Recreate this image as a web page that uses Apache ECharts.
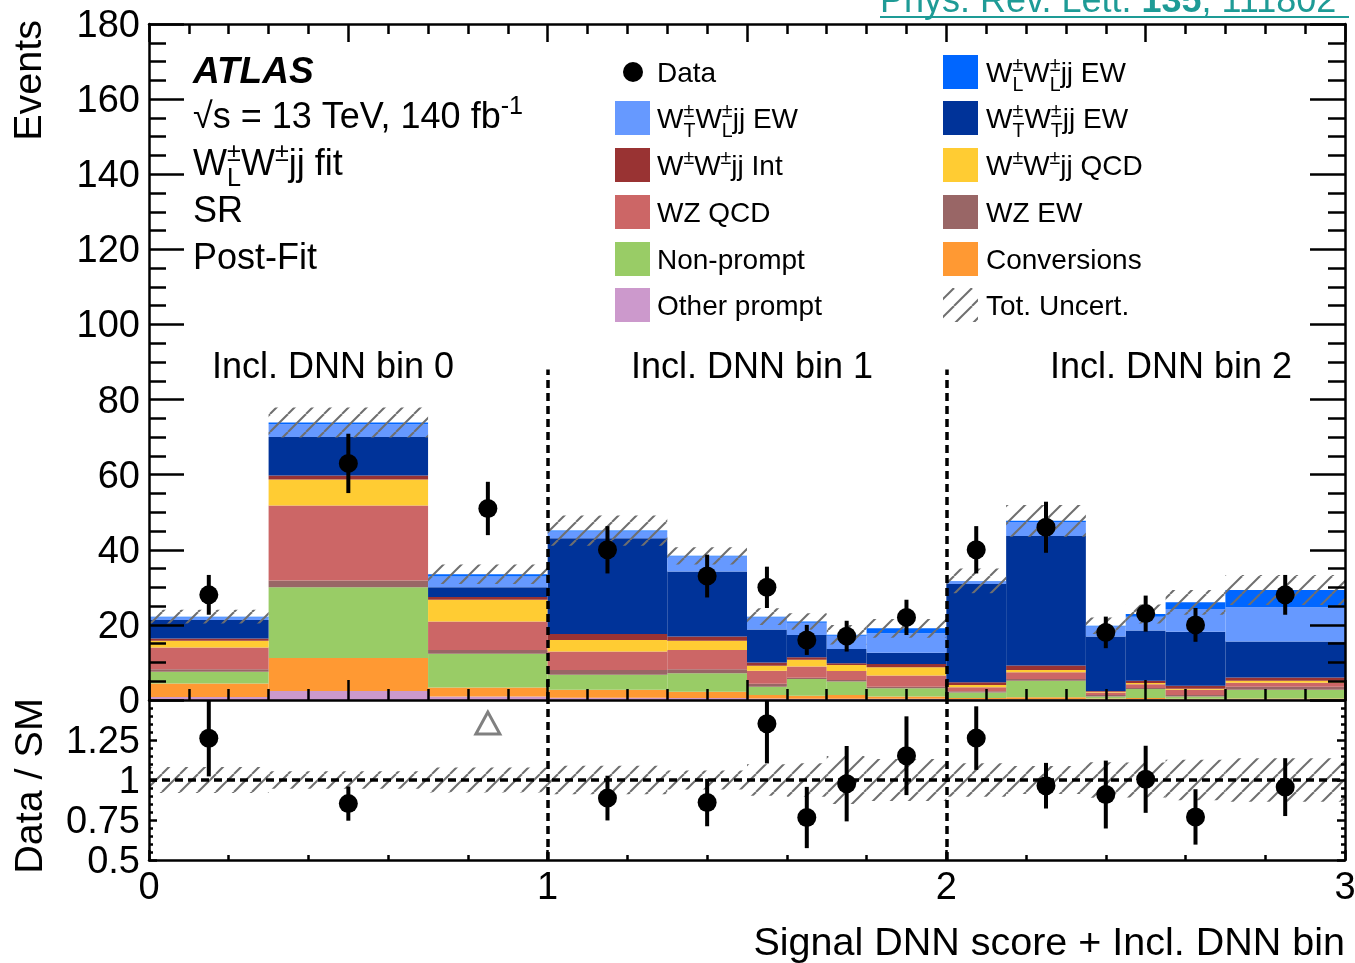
<!DOCTYPE html>
<html>
<head>
<meta charset="utf-8">
<script src="https://cdn.jsdelivr.net/npm/echarts@6.0.0/dist/echarts.min.js"></script>
<style>
html,body{margin:0;padding:0;background:#ffffff;}
#chart{width:1355px;height:963px;}
</style>
</head>
<body>
<div id="chart"></div>
<script>
// ---------------- data ----------------
const binEdges    = [0, 0.3, 0.7, 1.0, 1.3, 1.5, 1.6, 1.7, 1.8, 2.0, 2.15, 2.35, 2.45, 2.55, 2.7, 3.0];
const dataObs     = [28, 63, 51, 40, 33, 30, 16, 17, 22, 40, 46, 18, 23, 20, 28];
const dataErr     = [5.3, 7.9, 7.1, 6.3, 5.7, 5.5, 4.0, 4.1, 4.7, 6.3, 6.8, 4.2, 4.8, 4.5, 5.3];
const otherPrompt = [0.8, 2.4, 0.9, 0.6, 0.5, 0.4, 0.3, 0.3, 0.3, 0.2, 0.2, 0.1, 0.2, 0.1, 0.2];
const conversions = [3.6, 8.8, 2.4, 2.1, 1.7, 0.9, 0.8, 1.0, 0.6, 0.3, 0.5, 0.3, 0.3, 0.2, 0.2];
const nonPrompt   = [3.1, 18.8, 9.0, 4.0, 4.9, 2.2, 4.5, 3.6, 2.2, 1.5, 4.4, 0.5, 2.4, 0.6, 2.3];
const wzEW        = [0.7, 1.8, 1.0, 1.3, 1.1, 0.8, 0.3, 0.4, 0.4, 0.3, 0.5, 0.4, 0.3, 0.4, 0.8];
const wzQCD       = [5.8, 20.0, 7.6, 4.9, 5.1, 3.5, 3.0, 2.4, 3.0, 1.1, 1.8, 0.7, 1.0, 1.4, 1.1];
const wwQCD       = [1.8, 6.9, 5.8, 3.1, 2.5, 1.3, 1.8, 1.6, 2.2, 0.6, 0.6, 0.2, 0.3, 0.3, 0.5];
const wwInt       = [0.6, 1.1, 0.7, 1.6, 1.1, 0.9, 0.7, 0.5, 0.9, 0.7, 1.2, 0.2, 0.6, 0.8, 0.9];
const wwTT        = [4.9, 10.2, 2.6, 25.5, 17.3, 8.8, 5.9, 3.8, 3.0, 26.2, 34.5, 14.5, 13.4, 14.4, 9.6];
const wwTL        = [0.7, 3.4, 2.9, 1.8, 4.0, 3.2, 3.3, 3.5, 5.2, 0.7, 3.7, 2.7, 3.7, 6.0, 9.1];
const wwLL        = [0.2, 0.5, 0.6, 0.2, 0.2, 0.2, 0.3, 0.3, 1.3, 0.1, 0.3, 0.2, 0.7, 1.8, 4.6];
const totUncert   = [1.8, 4.0, 2.6, 4.0, 2.3, 2.2, 2.2, 2.6, 2.5, 3.3, 4.2, 2.2, 2.5, 3.3, 4.0];
const groupLabels = ['Incl. DNN bin 0', 'Incl. DNN bin 1', 'Incl. DNN bin 2'];
const groupDividers = [1, 2];

// ---------------- styling / config ----------------
const FF = '"Liberation Sans", Arial, Helvetica, sans-serif';
const stackOrder = [
  {values: otherPrompt, color: '#cc99cc'},
  {values: conversions, color: '#ff9933'},
  {values: nonPrompt,   color: '#99cc66'},
  {values: wzEW,        color: '#996666'},
  {values: wzQCD,       color: '#cc6666'},
  {values: wwQCD,       color: '#ffcc33'},
  {values: wwInt,       color: '#993333'},
  {values: wwTT,        color: '#003399'},
  {values: wwTL,        color: '#6699ff'},
  {values: wwLL,        color: '#0066ff'}
];

function makeHatch() {
  const s = 18;
  const c = document.createElement('canvas');
  c.width = s; c.height = s;
  const g = c.getContext('2d');
  g.strokeStyle = '#6f6f6f';
  g.lineWidth = 2;
  for (const o of [-s, 0, s]) {
    g.beginPath(); g.moveTo(o, s); g.lineTo(o + s, 0); g.stroke();
  }
  return c;
}
const hatch = {image: makeHatch(), repeat: 'repeat'};

// ---------------- build series ----------------
const nBins = dataObs.length;
const cum = new Array(nBins).fill(0);
function rectRender(fill) {
  return function (params, api) {
    const p0 = api.coord([api.value(0), api.value(3)]);
    const p1 = api.coord([api.value(1), api.value(2)]);
    return {type: 'rect', shape: {x: p0[0], y: p0[1], width: p1[0] - p0[0], height: p1[1] - p0[1]},
            style: {fill: fill, stroke: null}};
  };
}
const series = [];
stackOrder.forEach(comp => {
  const rows = comp.values.map((v, i) => {
    const b = cum[i]; cum[i] += v;
    return [binEdges[i], binEdges[i + 1], b, cum[i]];
  });
  series.push({type: 'custom', xAxisIndex: 0, yAxisIndex: 0, renderItem: rectRender(comp.color),
               data: rows, z: 2, silent: true, animation: false});
});
const totals = cum.slice();
const centers = dataObs.map((_, i) => (binEdges[i] + binEdges[i + 1]) / 2);

// uncertainty band main
series.push({type: 'custom', xAxisIndex: 0, yAxisIndex: 0, renderItem: rectRender(hatch), z: 3, silent: true, animation: false,
  data: totals.map((t, i) => [binEdges[i], binEdges[i + 1], t - totUncert[i], t + totUncert[i]])});
// uncertainty band ratio
series.push({type: 'custom', xAxisIndex: 2, yAxisIndex: 2, renderItem: rectRender(hatch), z: 3, silent: true, animation: false,
  data: totals.map((t, i) => [binEdges[i], binEdges[i + 1], 1 - totUncert[i] / t, 1 + totUncert[i] / t])});

const dashStyle = {color: '#000', width: 3.5, type: [8, 5]};
// dividers in main panel
series.push({type: 'line', xAxisIndex: 0, yAxisIndex: 0, data: [], z: 5, animation: false,
  markLine: {silent: true, symbol: ['none', 'none'], animation: false, label: {show: false}, lineStyle: dashStyle,
    data: groupDividers.map(x => [{coord: [x, 0]}, {coord: [x, 88]}])}});
// ratio reference + dividers
series.push({type: 'line', xAxisIndex: 2, yAxisIndex: 2, data: [], z: 5, animation: false,
  markLine: {silent: true, symbol: ['none', 'none'], animation: false, label: {show: false}, lineStyle: dashStyle,
    data: [{yAxis: 1}].concat(groupDividers.map(x => [{coord: [x, 0.5]}, {coord: [x, 1.5]}]))}});

function pointRender(lo, hi) {
  return function (params, api) {
    const x = api.value(0), y = api.value(1), e = api.value(2);
    if (y > hi) {
      const c = api.coord([x, hi - 0.147]);
      return {type: 'polygon', shape: {points: [[c[0], c[1] - 11.5], [c[0] - 12, c[1] + 10.5], [c[0] + 12, c[1] + 10.5]]},
              style: {fill: null, stroke: '#808080', lineWidth: 3}};
    }
    const c = api.coord([x, y]);
    const t = api.coord([x, Math.min(y + e, hi)]);
    const b = api.coord([x, Math.max(y - e, lo)]);
    return {type: 'group', children: [
      {type: 'line', shape: {x1: c[0], y1: t[1], x2: c[0], y2: b[1]}, style: {stroke: '#000', lineWidth: 4}},
      {type: 'circle', shape: {cx: c[0], cy: c[1], r: 9.5}, style: {fill: '#000'}}
    ]};
  };
}
series.push({type: 'custom', xAxisIndex: 0, yAxisIndex: 0, renderItem: pointRender(0, 180), z: 6, silent: true, animation: false,
  data: dataObs.map((d, i) => [centers[i], d, dataErr[i]])});
series.push({type: 'custom', xAxisIndex: 2, yAxisIndex: 2, renderItem: pointRender(0.5, 1.5), z: 6, silent: true, animation: false,
  data: dataObs.map((d, i) => [centers[i], d / totals[i], dataErr[i] / totals[i]])});

// ---------------- axes ----------------
const blackLine = {color: '#000', width: 2.5};
function xAx(grid, pos, interval, tl, mtl, labels) {
  return {gridIndex: grid, type: 'value', min: 0, max: 3, interval: interval, position: pos, z: 10,
    axisLine: {show: true, onZero: false, lineStyle: blackLine},
    axisTick: {show: true, inside: true, length: tl, lineStyle: blackLine},
    minorTick: {show: true, splitNumber: 5, length: mtl, lineStyle: blackLine},
    axisLabel: labels ? {show: true, fontFamily: FF, fontSize: 38, color: '#000', margin: 10} : {show: false},
    splitLine: {show: false}, minorSplitLine: {show: false}};
}
function yAx(grid, pos, min, max, interval, split, tl, mtl, labels, fmt) {
  return {gridIndex: grid, type: 'value', min: min, max: max, interval: interval, position: pos, z: 10,
    axisLine: {show: true, onZero: false, lineStyle: blackLine},
    axisTick: {show: true, inside: true, length: tl, lineStyle: blackLine},
    minorTick: {show: true, splitNumber: split, length: mtl, lineStyle: blackLine},
    axisLabel: labels ? {show: true, fontFamily: FF, fontSize: 38, color: '#000', margin: 9,
                         verticalAlign: 'top', lineHeight: 5, formatter: fmt} : {show: false},
    splitLine: {show: false}, minorSplitLine: {show: false}};
}

// ---------------- text graphics ----------------
const DY = 2.5;
const mctx = document.createElement('canvas').getContext('2d');
function tw(text, size, weight, style) {
  mctx.font = (style || 'normal') + ' ' + (weight || 'normal') + ' ' + size + 'px ' + FF;
  return mctx.measureText(text).width;
}
function T(x, y, text, size, extra) {
  return {type: 'text', x: x, y: y + DY, silent: true, z: 100,
    style: Object.assign({text: text, fontFamily: FF, fontSize: size, fill: '#000', align: 'left', verticalAlign: 'middle'}, extra || {})};
}
function latex(x, y, tokens, size) {
  const els = [];
  let cx = x;
  const small = size * 0.7;
  const supOff = -size * 0.33, subOff = size * 0.39;
  tokens.forEach(t => {
    if (typeof t === 'string') {
      els.push(T(cx, y, t, size));
      cx += tw(t, size);
    } else {
      let w = 0;
      if (t.sup) { els.push(T(cx, y + supOff, t.sup, small)); w = Math.max(w, tw(t.sup, small)); }
      if (t.sub) { els.push(T(cx, y + subOff, t.sub, small)); w = Math.max(w, tw(t.sub, small)); }
      cx += w;
    }
  });
  return els;
}
function rotT(x, y, text, size, align) {
  return {type: 'text', x: x, y: y, rotation: Math.PI / 2, silent: true, z: 100,
    style: {text: text, fontFamily: FF, fontSize: size, fill: '#000', align: align, verticalAlign: 'middle'}};
}

const G = [];
// left info block
G.push(T(193, 70, 'ATLAS', 37, {fontWeight: 'bold', fontStyle: 'italic'}));
G.push(...latex(193, 116, ['\u221As = 13 TeV, 140 fb', {sup: '-1'}], 36));
G.push(...latex(193, 163, ['W', {sup: '\u00B1', sub: 'L'}, 'W', {sup: '\u00B1'}, 'jj fit'], 36));
G.push(T(193, 210, 'SR', 36));
G.push(T(193, 257, 'Post-Fit', 36));

// legend
const rowY = [72, 118, 165, 212, 259, 305];
const c1s = 615, c1t = 657, c2s = 943, c2t = 986, LS = 28;
function sq(x, y, fill) {
  return {type: 'rect', silent: true, z: 100, shape: {x: x, y: y - 17, width: 35, height: 34}, style: {fill: fill, stroke: null}};
}
const PM = '\u00B1';
G.push({type: 'circle', silent: true, z: 100, shape: {cx: 633, cy: rowY[0], r: 10}, style: {fill: '#000'}});
G.push(T(c1t, rowY[0], 'Data', LS));
G.push(sq(c1s, rowY[1], '#6699ff'));
G.push(...latex(c1t, rowY[1], ['W', {sup: PM, sub: 'T'}, 'W', {sup: PM, sub: 'L'}, 'jj EW'], LS));
G.push(sq(c1s, rowY[2], '#993333'));
G.push(...latex(c1t, rowY[2], ['W', {sup: PM}, 'W', {sup: PM}, 'jj Int'], LS));
G.push(sq(c1s, rowY[3], '#cc6666'));
G.push(T(c1t, rowY[3], 'WZ QCD', LS));
G.push(sq(c1s, rowY[4], '#99cc66'));
G.push(T(c1t, rowY[4], 'Non-prompt', LS));
G.push(sq(c1s, rowY[5], '#cc99cc'));
G.push(T(c1t, rowY[5], 'Other prompt', LS));

G.push(sq(c2s, rowY[0], '#0066ff'));
G.push(...latex(c2t, rowY[0], ['W', {sup: PM, sub: 'L'}, 'W', {sup: PM, sub: 'L'}, 'jj EW'], LS));
G.push(sq(c2s, rowY[1], '#003399'));
G.push(...latex(c2t, rowY[1], ['W', {sup: PM, sub: 'T'}, 'W', {sup: PM, sub: 'T'}, 'jj EW'], LS));
G.push(sq(c2s, rowY[2], '#ffcc33'));
G.push(...latex(c2t, rowY[2], ['W', {sup: PM}, 'W', {sup: PM}, 'jj QCD'], LS));
G.push(sq(c2s, rowY[3], '#996666'));
G.push(T(c2t, rowY[3], 'WZ EW', LS));
G.push(sq(c2s, rowY[4], '#ff9933'));
G.push(T(c2t, rowY[4], 'Conversions', LS));
G.push(sq(c2s, rowY[5], hatch));
G.push(T(c2t, rowY[5], 'Tot. Uncert.', LS));

// group labels
[212, 631, 1050].forEach((x, i) => G.push(T(x, 366, groupLabels[i], 36)));

// axis titles
G.push(rotT(30, 20, 'Events', 39.5, 'right'));
G.push(rotT(31, 786, 'Data / SM', 39.5, 'center'));
G.push(T(1345, 942, 'Signal DNN score + Incl. DNN bin', 39.5, {align: 'right'}));

// citation (clipped at top)
G.push({type: 'text', x: 880, y: 2, silent: true, z: 100,
  style: {text: '{n|Phys. Rev. Lett. }{b|135}{n|, 111802}', fontFamily: FF, fontSize: 36, fill: '#1e9b96', verticalAlign: 'middle', align: 'left',
    rich: {n: {fontFamily: FF, fontSize: 36, fill: '#1e9b96', color: '#1e9b96'}, b: {fontFamily: FF, fontSize: 36, fontWeight: 'bold', fill: '#1e9b96', color: '#1e9b96'}}}});
G.push({type: 'line', silent: true, z: 100, shape: {x1: 880, y1: 17, x2: 1349, y2: 17}, style: {stroke: '#1e9b96', lineWidth: 2}});

// ---------------- option ----------------
const option = {
  animation: false,
  backgroundColor: '#ffffff',
  textStyle: {fontFamily: FF},
  grid: [
    {left: 149, right: 10, top: 24, height: 676, outerBoundsMode: 'none', containLabel: false},
    {left: 149, right: 10, top: 700, height: 160, outerBoundsMode: 'none', containLabel: false}
  ],
  xAxis: [
    xAx(0, 'bottom', 0.5, 20, 11, false),
    xAx(0, 'top', 0.5, 18, 10, false),
    xAx(1, 'bottom', 1, 10, 5, true)
  ],
  yAxis: [
    yAx(0, 'left', 0, 180, 20, 4, 35, 17, true),
    yAx(0, 'right', 0, 180, 20, 4, 35, 17, false),
    yAx(1, 'left', 0.5, 1.5, 0.25, 5, 8, 4, true, v => (v >= 1.5 ? '' : String(v))),
    yAx(1, 'right', 0.5, 1.5, 0.25, 5, 8, 4, false)
  ],
  series: series,
  graphic: {elements: G}
};
const chart = echarts.init(document.getElementById('chart'), null, {renderer: 'canvas'});
chart.setOption(option);
</script>
</body>
</html>
